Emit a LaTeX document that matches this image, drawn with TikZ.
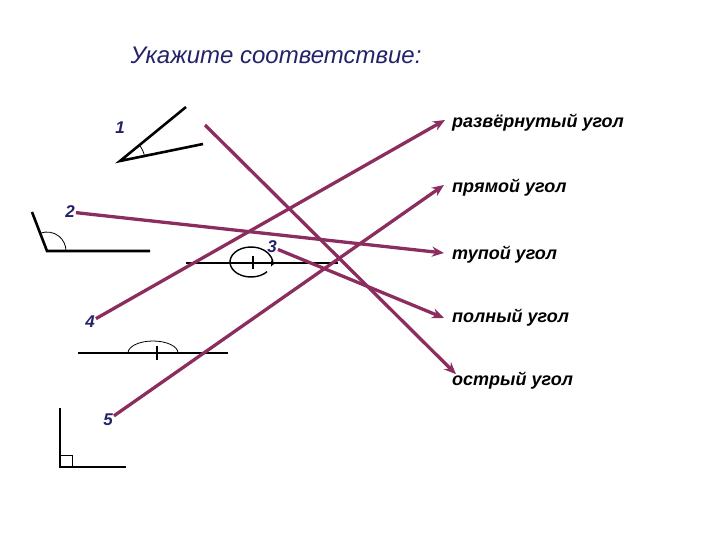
\documentclass[tikz,border=0pt]{standalone}
\usepackage{fontspec}
\setmainfont{Liberation Sans}
\usetikzlibrary{arrows.meta}
\definecolor{plum}{RGB}{140,45,95}
\definecolor{navy}{RGB}{35,35,105}

\begin{document}
\begin{tikzpicture}
        [x=1pt,y=-1pt,
        num/.style={text=navy,inner sep=1pt,font=\fontsize{17}{17}\selectfont\bfseries\itshape},
        answer/.style={anchor=west,inner sep=0pt,font=\fontsize{18}{18}\selectfont\bfseries\itshape},
        link/.style={plum,line width=3.3pt,-{Stealth[length=12pt,width=10pt]}},
        side/.style={line width=2.6pt},
        arcline/.style={line width=0.8pt}]
        \useasboundingbox (0,0) rectangle (720,540);

        \node[text=navy,font=\fontsize{24}{24}\selectfont\itshape] (title) at (276,55) {Укажите соответствие:};

        % numbers
        \node[num] (1) at (120,128) {1};
        \node[num] (2) at (70,212) {2};
        \node[num] (3) at (272,247) {3};
        \node[num] (4) at (90,322) {4};
        \node[num] (5) at (108,420) {5};

        % answers
        \node[answer] (straight) at (452,123) {развёрнутый угол};
        \node[answer] (right) at (452,188) {прямой угол};
        \node[answer] (obtuse) at (452,255) {тупой угол};
        \node[answer] (full) at (452,318) {полный угол};
        \node[answer] (acute) at (452,381) {острый угол};

        % angle 1
        \coordinate (v1) at (120,161);
        \draw[side] (186,107) -- (v1) -- (203,144);
        \draw[arcline] ([shift={(-39:25)}]v1) arc[start angle=-39,end angle=-12,radius=25];
        % angle 2
        \coordinate (v2) at (47,251);
        \draw[side] (32,212) -- (v2) -- (150,251);
        \draw[arcline] ([shift={(-111:19)}]v2) arc[start angle=-111,end angle=0,radius=19];
        % angle 3
        \coordinate (v3) at (251,262);
        \draw[side] (186,263) -- (338,263);
        \draw[side] (253,256) -- (253,269);
        \draw[line width=1.4pt,-{Stealth[length=6pt,width=5pt]}] ([shift={(40:21 and 15)}]v3) arc[start angle=40,end angle=378,x radius=21,y radius=15];
        % angle 4
        \coordinate (v4) at (153,353);
        \draw[side] (78,353) -- (228,353);
        \draw[side] (157,346) -- (157,360);
        \draw[arcline] ([shift={(180:25)}]v4) arc[start angle=180,end angle=360,x radius=25,y radius=12];
        % angle 5
        \coordinate (v5) at (60,467);
        \draw[side] (60,408) -- (v5) -- (126,467);
        \draw[arcline] (60,455) -- (72,455) -- (72,467);

        % matching arrows
        \coordinate (s1) at (205,125);
        \draw[link] (s1) -- ([xshift=4pt,yshift=-2pt]acute.north west);
        \draw[link] (2) -- ([xshift=-8pt,yshift=2pt]obtuse.west);
        \draw[link] (3) -- ([xshift=-8pt]full.west);
        \draw[link] (4) -- ([xshift=-7pt,yshift=3pt]straight.west);
        \draw[link] (5) -- ([xshift=-8pt,yshift=3pt]right.west);
    \end{tikzpicture}
\end{document}
